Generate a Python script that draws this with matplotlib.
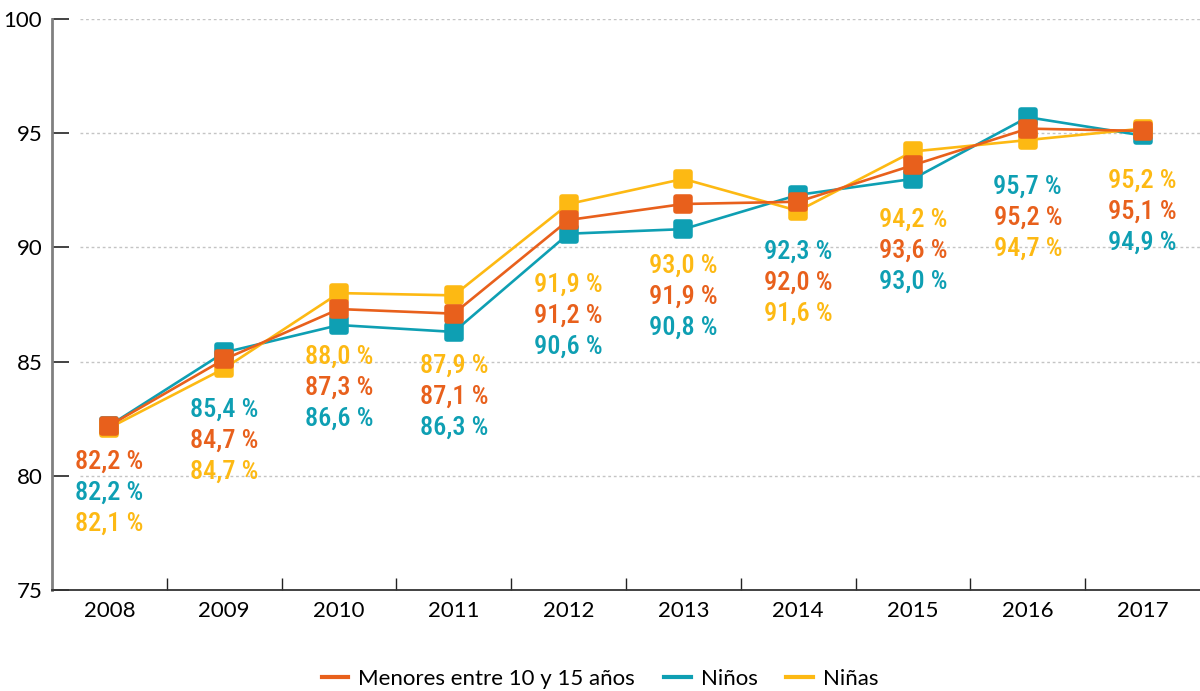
import matplotlib
matplotlib.use("Agg")
import matplotlib.pyplot as plt
from matplotlib.markers import MarkerStyle
import numpy as np

years = ["2008", "2009", "2010", "2011", "2012", "2013", "2014", "2015", "2016", "2017"]
series_names = ["Menores entre 10 y 15 años", "Niños", "Niñas"]
menores = [82.2, 85.1, 87.3, 87.1, 91.2, 91.9, 92.0, 93.6, 95.2, 95.1]
ninos = [82.2, 85.4, 86.6, 86.3, 90.6, 90.8, 92.3, 93.0, 95.7, 94.9]
ninas = [82.1, 84.7, 88.0, 87.9, 91.9, 93.0, 91.6, 94.2, 94.7, 95.2]
# value labels as printed in the source
menores_lbl = [82.2, 84.7, 87.3, 87.1, 91.2, 91.9, 92.0, 93.6, 95.2, 95.1]
ninos_lbl = ninos
ninas_lbl = ninas
# vertical position (data units) of top label in each stack
label_top = [80.6, 82.9, 85.2, 84.8, 88.35, 89.2, 89.8, 91.2, 92.65, 92.9]
yticks = [75, 80, 85, 90, 95, 100]

colors = ["#E8601C", "#0E9FB3", "#FDB913"]

fig = plt.figure(figsize=(12, 6.91), dpi=100)
ax = fig.add_axes([52/1200, 1-590/691, 1-52/1200, (590-19)/691])
x = np.arange(len(years))

mk = MarkerStyle("s", joinstyle="round")
data = [menores, ninos, ninas]
zorders = [5, 3, 4]
for vals, c, z, name in zip(data, colors, zorders, series_names):
    ax.plot(x, vals, color=c, lw=1.9, marker=mk, ms=10.5, mew=4, mec=c, mfc=c,
            zorder=z, label=name, solid_joinstyle="round")

ax.set_xlim(-0.5, len(years) - 0.5)
ax.set_ylim(75, 100)
for yv in yticks[1:]:
    ax.axhline(yv, xmin=0.0244, xmax=1, color="#C4C4C4", lw=1, ls=(0, (2, 2)), zorder=1)

ax.set_yticks(yticks)
ax.set_yticklabels([str(v) for v in yticks], fontsize=16, family="Lato")
ax.tick_params(axis="y", direction="in", length=12, width=1.2, color="#222222", pad=7)
ax.set_xticks(x)
ax.set_xticklabels(years, fontsize=16, family="Lato")
ax.set_xticks(np.arange(len(years) - 1) + 0.5, minor=True)
ax.tick_params(axis="x", which="major", length=0, pad=8)
ax.tick_params(axis="x", which="minor", direction="in", length=9, width=1, color="#222222")

for s in ["top", "right"]:
    ax.spines[s].set_visible(False)
ax.spines["left"].set_color("#808080")
ax.spines["left"].set_linewidth(2)
ax.spines["bottom"].set_color("#333333")
ax.spines["bottom"].set_linewidth(1.3)

labels = [menores_lbl, ninos_lbl, ninas_lbl]
for i in range(len(years)):
    order = sorted(range(3), key=lambda k: (-labels[k][i], k))
    for row, k in enumerate(order):
        txt = f"{labels[k][i]:.1f} %".replace(".", ",")
        ax.annotate(txt, (x[i], label_top[i]), xytext=(0, -22.3 * row), textcoords="offset points",
                    ha="center", va="center", color=colors[k], fontsize=19,
                    family=["Roboto Condensed", "DejaVu Sans"], fontweight="medium", zorder=6)

leg = fig.legend(loc="center", bbox_to_anchor=(0.5, 1 - 679/691), ncol=3, frameon=False,
                 prop={"family": "Lato", "size": 16}, handlelength=1.2, columnspacing=1.3,
                 handletextpad=0.45)
for h in leg.legend_handles:
    h.set_marker("")
    h.set_linewidth(3)

fig.savefig("out.png", dpi=100)
